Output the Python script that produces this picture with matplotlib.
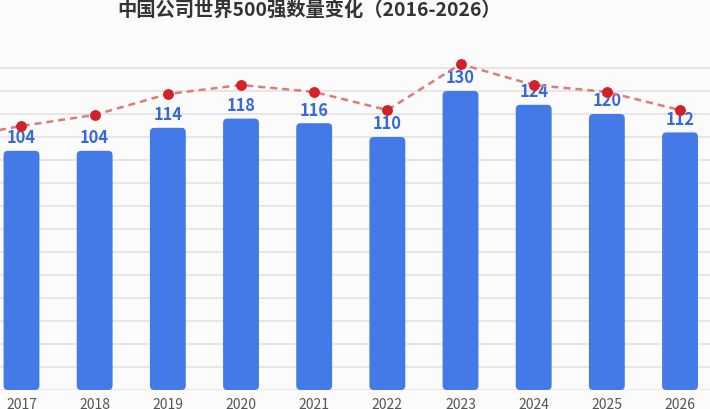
import matplotlib
matplotlib.use("Agg")
import matplotlib.pyplot as plt
from matplotlib.patches import FancyBboxPatch

plt.rcParams['font.family'] = ['Noto Sans CJK SC', 'DejaVu Sans']

# data
title = "中国公司世界500强数量变化（2016-2026）"
bar_years = [2017, 2018, 2019, 2020, 2021, 2022, 2023, 2024, 2025, 2026]
bar_values = [104, 104, 114, 118, 116, 110, 130, 124, 120, 112]
line_years = [2016, 2017, 2018, 2019, 2020, 2021, 2022, 2023, 2024, 2025, 2026]
line_values = [109, 114.8, 119.6, 128.7, 132.6, 129.6, 121.7, 141.7, 132.6, 129.6, 121.7]
grid_values = list(range(10, 150, 10))

bg = "#fbfbfb"
bar_color = "#4479e8"
label_color = "#3668d6"

fig = plt.figure(figsize=(7.1, 4.09), dpi=100, facecolor=bg)
ax = fig.add_axes([0, 19 / 409, 1, 390 / 409])
ax.set_facecolor(bg)

px_per_unit = 2.3
ax.set_ylim(0, 390 / px_per_unit)
ax.set_xlim(2017 - 21.5 / 73.17, 2017 + (710 - 21.5) / 73.17)

for g in grid_values:
    ax.axhline(g, color="#e6e6e6", lw=1.4, zorder=0)
ax.axhline(0, color="#e6e6e6", lw=1.4, zorder=0)

width = 0.49
bars = ax.bar(bar_years, bar_values, width=width, color=bar_color)
# swap plain rectangles for rounded ones
for b in bars:
    x, y = b.get_x(), b.get_y()
    w, h = b.get_width(), b.get_height()
    b.remove()
    ax.add_patch(FancyBboxPatch((x, y), w, h,
                                boxstyle="round,pad=0,rounding_size=0.06",
                                mutation_aspect=73.17 / px_per_unit,
                                facecolor=bar_color, edgecolor="none", zorder=2))

for yr, v in zip(bar_years, bar_values):
    ax.annotate(str(v), (yr, v), xytext=(0, 5.5), textcoords="offset points",
                ha="center", va="baseline", fontsize=11.8, fontweight="bold",
                color=label_color, zorder=3)

ax.plot(line_years, line_values, color="#e07a7a", lw=1.8,
        linestyle=(0, (2.8, 2)), zorder=4)
ax.plot(line_years, line_values, linestyle="none", marker="o", markersize=6.8,
        color="#d42027", zorder=5)

ax.set_xticks(bar_years)
ax.set_xticklabels([str(y) for y in bar_years], fontsize=10, color="#555555")
ax.tick_params(axis="x", length=0, pad=6)
ax.set_yticks([])
for s in ax.spines.values():
    s.set_visible(False)

fig.text(309 / 710, 1 - 10 / 409, title, ha="center", va="center",
         fontsize=13.9, fontweight="bold", color="#333333")

plt.savefig("out.png", dpi=100, facecolor=bg)
plt.close()
